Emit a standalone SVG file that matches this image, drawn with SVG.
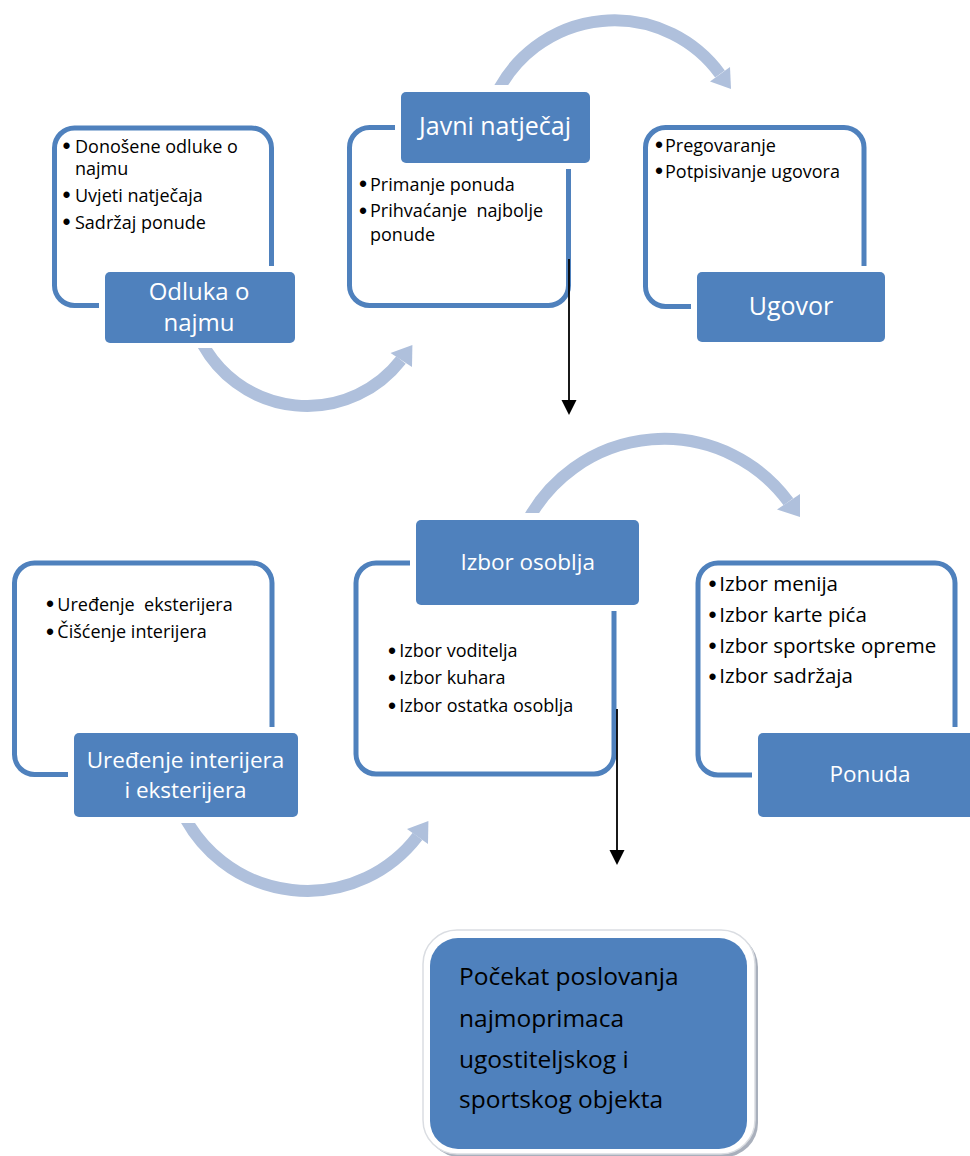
<svg xmlns="http://www.w3.org/2000/svg" width="970" height="1156" viewBox="0 0 970 1156">
<style>
.ol{fill:none;stroke:#4F81BD;stroke-width:5}
.lb{fill:#4F81BD;stroke:#FFFFFF;stroke-width:12;paint-order:stroke}
.t{font-family:'Open Sans','Liberation Sans',sans-serif;font-size:18px;fill:#000000}
.tf{font-family:'Open Sans','Liberation Sans',sans-serif;font-size:20.5px;fill:#000000}
.bu{font-family:'Liberation Sans','DejaVu Sans',sans-serif;font-size:23px;fill:#000000;text-anchor:middle}
.h1{font-family:'Open Sans','Liberation Sans',sans-serif;font-size:25px;fill:#FFFFFF;text-anchor:middle}
.h2{font-family:'Open Sans','Liberation Sans',sans-serif;font-size:22.5px;fill:#FFFFFF;text-anchor:middle}
.g{font-family:'Open Sans','Liberation Sans',sans-serif;font-size:24.5px;fill:#000000}
.arc{fill:none;stroke:#AFC0DC;stroke-width:12}
.hd{fill:#AFC0DC}
.bl{stroke:#000000;stroke-width:1.8;fill:none}
</style>
<defs>
<clipPath id="cA"><rect x="0" y="348" width="970" height="200"/></clipPath>
<clipPath id="cB"><rect x="0" y="0" width="970" height="85"/></clipPath>
<clipPath id="cD"><rect x="0" y="823" width="970" height="200"/></clipPath>
<clipPath id="cE"><rect x="0" y="300" width="970" height="213"/></clipPath>
</defs>

<g id="node-odluka">
<rect class="ol" x="54.5" y="128" width="217" height="177.5" rx="20"/>
<rect class="lb" x="105" y="272" width="190" height="71" rx="5"/>
<text class="h1" x="199" y="300" style="font-size:24px">Odluka o<tspan x="199" y="330.5">najmu</tspan></text>
<text class="bu" x="66.5" y="154">•</text>
<text class="t" x="75" y="152.7">Donošene odluke o<tspan x="75" y="175">najmu</tspan></text>
<text class="bu" x="66.5" y="203">•</text>
<text class="t" x="75" y="201.7">Uvjeti natječaja</text>
<text class="bu" x="66.5" y="230.3">•</text>
<text class="t" x="75" y="229">Sadržaj ponude</text>
</g>

<g id="node-javni">
<rect class="ol" x="349.5" y="127.5" width="219" height="178" rx="20"/>
<rect class="lb" x="401" y="92" width="189" height="71" rx="5"/>
<text class="h1" x="495" y="135">Javni natječaj</text>
<text class="bu" x="363" y="192">•</text>
<text class="t" x="370" y="190.7">Primanje ponuda</text>
<text class="bu" x="363" y="218.6">•</text>
<text class="t" x="370" y="217.3" style="white-space:pre">Prihvaćanje  najbolje<tspan x="370" y="240.7">ponude</tspan></text>
</g>

<g id="node-ugovor">
<rect class="ol" x="645.5" y="127.5" width="218.5" height="179" rx="20"/>
<rect class="lb" x="697" y="272" width="188" height="70" rx="5"/>
<text class="h1" x="791" y="315">Ugovor</text>
<text class="bu" x="659" y="153">•</text>
<text class="t" x="665" y="151.7">Pregovaranje</text>
<text class="bu" x="659" y="179.3">•</text>
<text class="t" x="665" y="178">Potpisivanje ugovora</text>
</g>

<g id="node-uredenje">
<rect class="ol" x="14.5" y="563" width="257.5" height="211.5" rx="20"/>
<rect class="lb" x="74" y="733" width="224" height="84" rx="5"/>
<text class="h2" x="185.5" y="768">Uređenje interijera<tspan x="185.5" y="798">i eksterijera</tspan></text>
<text class="bu" x="50" y="612">•</text>
<text class="t" x="57.3" y="610.7" style="white-space:pre">Uređenje  eksterijera</text>
<text class="bu" x="50" y="639.6">•</text>
<text class="t" x="57.3" y="638.3">Čišćenje interijera</text>
</g>

<g id="node-osoblje">
<rect class="ol" x="356" y="563" width="258" height="211" rx="20"/>
<rect class="lb" x="416" y="520" width="223" height="85" rx="5"/>
<text class="h2" x="527.7" y="570">Izbor osoblja</text>
<text class="bu" x="392" y="658.6">•</text>
<text class="t" x="399.3" y="657.3">Izbor voditelja</text>
<text class="bu" x="392" y="685.6">•</text>
<text class="t" x="399.3" y="684.3">Izbor kuhara</text>
<text class="bu" x="392" y="713.6">•</text>
<text class="t" x="399.3" y="712.3">Izbor ostatka osoblja</text>
</g>

<g id="node-ponuda">
<rect class="ol" x="698" y="563" width="257" height="212" rx="20"/>
<rect class="lb" x="758" y="733" width="224" height="84" rx="5"/>
<text class="h2" x="870" y="782">Ponuda</text>
<text class="bu" x="712.5" y="592">•</text>
<text class="tf" x="719.3" y="590.7">Izbor menija</text>
<text class="bu" x="712.5" y="623">•</text>
<text class="tf" x="719.3" y="621.7">Izbor karte pića</text>
<text class="bu" x="712.5" y="654">•</text>
<text class="tf" x="719.3" y="652.7">Izbor sportske opreme</text>
<text class="bu" x="712.5" y="684.6">•</text>
<text class="tf" x="719.3" y="683.3">Izbor sadržaja</text>
</g>

<g id="node-pocetak">
<rect x="426" y="933" width="332" height="224" rx="34" fill="#A9B0BC"/>
<rect x="423" y="930" width="332" height="224" rx="34" fill="#FFFFFF" stroke="#DADDE2" stroke-width="1.5"/>
<rect x="430" y="938" width="317" height="211" rx="28" fill="#4F81BD"/>
<text class="g" x="459" y="985">Počekat poslovanja<tspan x="459" y="1026.5">najmoprimaca</tspan><tspan x="459" y="1068">ugostiteljskog i</tspan><tspan x="459" y="1108">sportskog objekta</tspan></text>
</g>

<g id="connectors">
<path class="arc" clip-path="url(#cA)" d="M200.5 340 A119 119 0 0 0 401 360"/>
<polygon class="hd" points="390.5,353 412,367 412.4,345"/>
<path class="arc" clip-path="url(#cB)" d="M496 95 A131 131 0 0 1 720 74"/>
<polygon class="hd" points="710,81.5 730,67 731,89"/>
<path class="arc" clip-path="url(#cD)" d="M181.2 810 A138.7 138.7 0 0 0 417.5 836.4"/>
<polygon class="hd" points="407,829 428,844 428.4,821"/>
<path class="arc" clip-path="url(#cE)" d="M526.5 523 A154.5 154.5 0 0 1 788.4 501.7"/>
<polygon class="hd" points="777,509.5 800,494 800,517"/>
<line class="bl" x1="569" y1="259" x2="569" y2="401"/>
<polygon points="561.5,400 576.5,400 569,415" fill="#000000"/>
<line class="bl" x1="617" y1="709" x2="617" y2="851"/>
<polygon points="609.5,850 624.5,850 617,865" fill="#000000"/>
</g>
</svg>
